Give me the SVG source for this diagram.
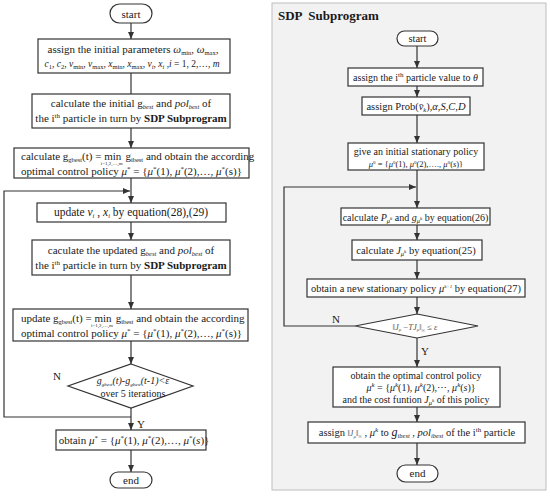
<svg xmlns="http://www.w3.org/2000/svg" width="550" height="496" viewBox="0 0 550 496">
<defs>
<marker id="ah" markerUnits="userSpaceOnUse" markerWidth="7" markerHeight="6" refX="7" refY="3" orient="auto">
<path d="M0,0 L7,3 L0,6 z" fill="#333"/>
</marker>
<style>
.t{font-family:"Liberation Serif","Times New Roman",serif;font-size:11px;fill:#1a1a1a}
.r{font-size:10px}
.m{text-anchor:middle}
.i{font-style:italic}
.b{font-weight:bold}
.sb{font-size:6.5px}
.sp{font-size:7px}
.ss{font-size:5px}
.box{fill:#fff;stroke:#333;stroke-width:1.2}
.ln{fill:none;stroke:#333;stroke-width:1.2}
.ar{marker-end:url(#ah)}
</style>
</defs>
<rect id="panel" x="272" y="3" width="274" height="487" fill="#f2f2f2" stroke="#bdbdbd" stroke-width="1"/>
<text class="t b" x="278" y="20" style="font-size:13px" xml:space="preserve">SDP  Subprogram</text>

<g id="connectors">
<line class="ln ar" x1="131" y1="23" x2="131" y2="39"/>
<line class="ln" x1="131" y1="73" x2="131" y2="94"/>
<line class="ln ar" x1="131" y1="128" x2="131" y2="148"/>
<line class="ln ar" x1="131" y1="178" x2="131" y2="203"/>
<polyline class="ln ar" points="131,417 4,417 4,191 130,191"/>
<line class="ln ar" x1="131" y1="222" x2="131" y2="240"/>
<line class="ln ar" x1="131" y1="275" x2="131" y2="309"/>
<line class="ln ar" x1="131" y1="341" x2="131" y2="364"/>
<line class="ln ar" x1="131" y1="408" x2="131" y2="430"/>
<line class="ln ar" x1="131" y1="450" x2="131" y2="472"/>
<line class="ln ar" x1="417" y1="46" x2="417" y2="68"/>
<line class="ln ar" x1="417" y1="86" x2="417" y2="97"/>
<line class="ln ar" x1="417" y1="115" x2="417" y2="143"/>
<line class="ln ar" x1="417" y1="170" x2="417" y2="208"/>
<polyline class="ln ar" points="355,326 284,326 284,187 416,187"/>
<line class="ln ar" x1="417" y1="225" x2="417" y2="240"/>
<line class="ln ar" x1="417" y1="260" x2="417" y2="279"/>
<line class="ln ar" x1="417" y1="297" x2="417" y2="314"/>
<line class="ln ar" x1="417" y1="338" x2="417" y2="367"/>
<line class="ln ar" x1="417" y1="407" x2="417" y2="422"/>
<line class="ln ar" x1="417" y1="443" x2="417" y2="465"/>
<text class="t" x="53" y="380">N</text>
<text class="t" x="137" y="428">Y</text>
<text class="t" x="332" y="323">N</text>
<text class="t" x="421" y="355">Y</text>
</g>

<g id="l-start"><rect class="box" x="110" y="4" width="42" height="19" rx="9.5"/><text class="t m" x="131" y="17.5">start</text></g>

<g id="l-init">
<rect class="box" x="38" y="39" width="192" height="34"/>
<text class="t m" x="133" y="53">assign the initial  parameters <tspan class="i">ω</tspan><tspan class="sb" dy="2">min</tspan><tspan dy="-2">, </tspan><tspan class="i">ω</tspan><tspan class="sb" dy="2">max</tspan><tspan dy="-2">,</tspan></text>
<text class="t m" x="132" y="67" style="font-size:9.5px"><tspan class="i">c</tspan><tspan class="sb" dy="2">1</tspan><tspan dy="-2">, </tspan><tspan class="i">c</tspan><tspan class="sb" dy="2">2</tspan><tspan dy="-2">, </tspan><tspan class="i">v</tspan><tspan class="sb" dy="2">min</tspan><tspan dy="-2">, </tspan><tspan class="i">v</tspan><tspan class="sb" dy="2">max</tspan><tspan dy="-2">, </tspan><tspan class="i">x</tspan><tspan class="sb" dy="2">min</tspan><tspan dy="-2">, </tspan><tspan class="i">x</tspan><tspan class="sb" dy="2">max</tspan><tspan dy="-2">, </tspan><tspan class="i">v</tspan><tspan class="sb i" dy="2">i</tspan><tspan dy="-2">, </tspan><tspan class="i">x</tspan><tspan class="sb i" dy="2">i</tspan><tspan dy="-2">  ,</tspan><tspan class="i">i</tspan> = 1, 2,…, <tspan class="i">m</tspan></text>
</g>

<g id="l-calc-init">
<rect class="box" x="32" y="94" width="198" height="34"/>
<text class="t m" x="131" y="107">calculate the  initial g<tspan class="sb i" dy="2">best</tspan><tspan dy="-2">  and </tspan><tspan class="i">pol</tspan><tspan class="sb i" dy="2">best</tspan><tspan dy="-2">  of</tspan></text>
<text class="t m" x="131" y="122">the i<tspan class="sp" dy="-4">th</tspan><tspan dy="4">  particle in turn by </tspan><tspan class="b">SDP  Subprogram</tspan></text>
</g>

<g id="l-calc-g">
<rect class="box" x="14" y="148" width="235" height="30"/>
<text class="t" x="21" y="160">calculate  g<tspan class="sb" dy="2">gbest</tspan><tspan dy="-2">(t) = min</tspan><tspan class="ss" dx="-20.5" dy="5">i=1,2,…,m</tspan><tspan dy="-5"> g</tspan><tspan class="sb" dy="2">ibest</tspan><tspan dy="-2">  and obtain the according</tspan></text>
<text class="t" x="21" y="175">optimal control policy  <tspan class="i">μ</tspan><tspan class="sp" dy="-4">*</tspan><tspan dy="4"> = {</tspan><tspan class="i">μ</tspan><tspan class="sp" dy="-4">*</tspan><tspan dy="4">(1), </tspan><tspan class="i">μ</tspan><tspan class="sp" dy="-4">*</tspan><tspan dy="4">(2),…, </tspan><tspan class="i">μ</tspan><tspan class="sp" dy="-4">*</tspan><tspan dy="4">(s)}</tspan></text>
</g>

<g id="l-update-v">
<rect class="box" x="37" y="203" width="189" height="19"/>
<text class="t m" x="131" y="216" style="font-size:11.5px">update <tspan class="i">v</tspan><tspan class="sb i" dy="2">i</tspan><tspan dy="-2"> , </tspan><tspan class="i">x</tspan><tspan class="sb i" dy="2">i</tspan><tspan dy="-2">  by equation(28),(29)</tspan></text>
</g>

<g id="l-calc-upd">
<rect class="box" x="32" y="240" width="198" height="35"/>
<text class="t m" x="131" y="254">caculate the updated  g<tspan class="sb i" dy="2">best</tspan><tspan dy="-2">  and  </tspan><tspan class="i">pol</tspan><tspan class="sb i" dy="2">best</tspan><tspan dy="-2">  of</tspan></text>
<text class="t m" x="131" y="269">the i<tspan class="sp" dy="-4">th</tspan><tspan dy="4"> particle in turn by </tspan><tspan class="b">SDP Subprogram</tspan></text>
</g>

<g id="l-update-g">
<rect class="box" x="13" y="309" width="235" height="32"/>
<text class="t" x="21" y="322">update  g<tspan class="sb" dy="2">gbest</tspan><tspan dy="-2">(t) = min</tspan><tspan class="ss" dx="-20.5" dy="5">i=1,2,…,m</tspan><tspan dy="-5"> g</tspan><tspan class="sb" dy="2">ibest</tspan><tspan dy="-2"> and obtain the according</tspan></text>
<text class="t" x="21" y="337">optimal control policy  <tspan class="i">μ</tspan><tspan class="sp" dy="-4">*</tspan><tspan dy="4"> = {</tspan><tspan class="i">μ</tspan><tspan class="sp" dy="-4">*</tspan><tspan dy="4">(1), </tspan><tspan class="i">μ</tspan><tspan class="sp" dy="-4">*</tspan><tspan dy="4">(2),…, </tspan><tspan class="i">μ</tspan><tspan class="sp" dy="-4">*</tspan><tspan dy="4">(s)}</tspan></text>
</g>

<g id="l-decision">
<polygon class="box" points="131,364 193,386 131,408 68,386"/>
<text class="t m i" x="133" y="384" style="font-size:10px">g<tspan class="ss" dy="1.5">gbest</tspan><tspan dy="-1.5">(t)-g</tspan><tspan class="ss" dy="1.5">gbest</tspan><tspan dy="-1.5">(t-1)&lt;ε</tspan></text>
<text class="t m" x="133" y="396.5" style="font-size:10px">over 5 iterations</text>
</g>

<g id="l-obtain">
<rect class="box" x="56" y="430" width="150" height="20"/>
<text class="t m" x="134" y="444">obtain  <tspan class="i">μ</tspan><tspan class="sp" dy="-4">*</tspan><tspan dy="4"> = {</tspan><tspan class="i">μ</tspan><tspan class="sp" dy="-4">*</tspan><tspan dy="4">(1), </tspan><tspan class="i">μ</tspan><tspan class="sp" dy="-4">*</tspan><tspan dy="4">(2),…, </tspan><tspan class="i">μ</tspan><tspan class="sp" dy="-4">*</tspan><tspan dy="4">(</tspan><tspan class="i">s</tspan>)}</text>
</g>

<g id="l-end"><rect class="box" x="110" y="472" width="42" height="16" rx="8"/><text class="t m" x="131" y="484">end</text></g>

<g id="r-start"><rect class="box" x="397" y="31" width="41" height="15" rx="7.5"/><text class="t m" x="417.5" y="42" style="font-size:10.5px">start</text></g>

<g id="r-assign-theta">
<rect class="box" x="348" y="68" width="135" height="18"/>
<text class="t m r" x="415.5" y="81">assign the i<tspan class="sp" dy="-4">th</tspan><tspan dy="4"> particle value to </tspan><tspan class="i">θ</tspan></text>
</g>

<g id="r-assign-prob">
<rect class="box" x="362" y="97" width="108" height="18"/>
<text class="t m" x="416" y="110" style="font-size:10.5px">assign Prob(<tspan class="i">v̄</tspan><tspan class="sb i" dy="2">k</tspan><tspan dy="-2">),</tspan><tspan class="i">α</tspan>,<tspan class="i">S</tspan>,<tspan class="i">C</tspan>,<tspan class="i">D</tspan></text>
</g>

<g id="r-init-policy">
<rect class="box" x="348" y="143" width="136" height="27"/>
<text class="t m r" x="416" y="155">give an initial stationary policy</text>
<text class="t m" x="416" y="167" style="font-size:8.5px"><tspan class="i">μ</tspan><tspan class="ss" dy="-3.5">0</tspan><tspan dy="3.5"> = {</tspan><tspan class="i">μ</tspan><tspan class="ss" dy="-3.5">0</tspan><tspan dy="3.5">(1), </tspan><tspan class="i">μ</tspan><tspan class="ss" dy="-3.5">0</tspan><tspan dy="3.5">(2),…., </tspan><tspan class="i">μ</tspan><tspan class="ss" dy="-3.5">0</tspan><tspan dy="3.5">(</tspan><tspan class="i">s</tspan>)}</text>
</g>

<g id="r-calc-p">
<rect class="box" x="341" y="208" width="149" height="17"/>
<text class="t m r" x="415.5" y="220.5">calculate <tspan class="i">P</tspan><tspan class="sb i" dy="2">μ</tspan><tspan class="ss i" dy="-3">k</tspan><tspan dy="1"> and </tspan><tspan class="i">g</tspan><tspan class="sb i" dy="2">μ</tspan><tspan class="ss i" dy="-3">k</tspan><tspan dy="1"> by equation(26)</tspan></text>
</g>

<g id="r-calc-j">
<rect class="box" x="352" y="240" width="130" height="20"/>
<text class="t m" x="416" y="254" style="font-size:10.5px">calculate <tspan class="i">J</tspan><tspan class="sb i" dy="2">μ</tspan><tspan class="ss i" dy="-3">k</tspan><tspan dy="1">  by equation(25)</tspan></text>
</g>

<g id="r-new-policy">
<rect class="box" x="307" y="279" width="218" height="18"/>
<text class="t m" x="416" y="292" style="font-size:10.4px">obtain a new stationary policy <tspan class="i">μ</tspan><tspan class="ss i" dy="-4">k+1</tspan><tspan dy="4"> by equation(27)</tspan></text>
</g>

<g id="r-decision">
<polygon class="box" points="417,314 478,326 417,338 355,326"/>
<text class="t" x="415" y="329.5" text-anchor="middle" style="font-size:8.5px;fill:#555">‖<tspan class="i">J</tspan><tspan class="ss i" dy="1.5">μ</tspan><tspan dy="-1.5"> −</tspan><tspan class="i">TJ</tspan><tspan class="ss i" dy="1.5">μ</tspan><tspan dy="-1.5">‖</tspan><tspan class="ss" dy="2">∞</tspan><tspan dy="-2"> ≤ </tspan><tspan class="i">ε</tspan></text>
</g>

<g id="r-optimal">
<rect class="box" x="333" y="367" width="167" height="40"/>
<text class="t m r" x="416" y="378.5">obtain the optimal control policy</text>
<text class="t m r" x="421" y="391"><tspan class="i">μ</tspan><tspan class="sp i" dy="-4">k</tspan><tspan dy="4"> = {</tspan><tspan class="i">μ</tspan><tspan class="sp i" dy="-4">k</tspan><tspan dy="4">(1), </tspan><tspan class="i">μ</tspan><tspan class="sp i" dy="-4">k</tspan><tspan dy="4">(2),⋯, </tspan><tspan class="i">μ</tspan><tspan class="sp i" dy="-4">k</tspan><tspan dy="4">(</tspan><tspan class="i">s</tspan>)}</text>
<text class="t m r" x="416" y="403">and the cost funtion <tspan class="i">J</tspan><tspan class="sb i" dy="2">μ</tspan><tspan class="ss i" dy="-3">k</tspan><tspan dy="1"> of this policy</tspan></text>
</g>

<g id="r-assign-best">
<rect class="box" x="308" y="422" width="217" height="21"/>
<text class="t m" x="417" y="436" style="font-size:10.5px">assign <tspan style="font-size:8px;fill:#555">‖<tspan class="i">J</tspan><tspan class="ss i" dy="1.5">μ</tspan><tspan dy="-1.5">‖</tspan><tspan class="ss" dy="2">∞</tspan></tspan><tspan dy="-2"> , </tspan><tspan class="i">μ</tspan><tspan class="sp i" dy="-4">k</tspan><tspan dy="4">  to  </tspan><tspan class="i" style="font-size:12px">g</tspan><tspan class="sb i" dy="2">ibest</tspan><tspan dy="-2"> , </tspan><tspan class="i">pol</tspan><tspan class="sb i" dy="2">ibest</tspan><tspan dy="-2">  of the i</tspan><tspan class="sp" dy="-4">th</tspan><tspan dy="4"> particle</tspan></text>
</g>

<g id="r-end"><rect class="box" x="397" y="465" width="41" height="17" rx="8.5"/><text class="t m" x="417.5" y="477">end</text></g>
</svg>
